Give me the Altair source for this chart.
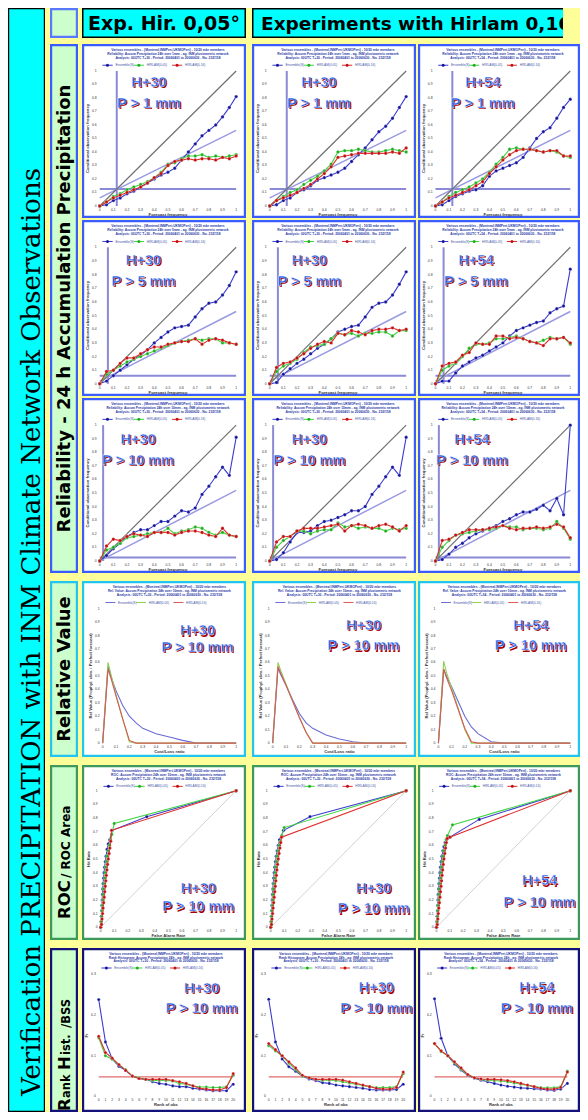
import altair as alt
import pandas as pd

# ------------------------------------------------------------------ data
REL_FCST = [0.0, 0.05, 0.1, 0.15, 0.2, 0.25, 0.3, 0.35, 0.4, 0.45, 0.5,
            0.55, 0.6, 0.65, 0.7, 0.75, 0.8, 0.85, 0.9, 0.95, 1.0]

# Reliability, P > 1 mm
REL_C1_P1_ENS = [0.00, 0.01, 0.04, 0.06, 0.09, 0.11, 0.14, 0.17, 0.20, 0.23, 0.25, 0.28, 0.34, 0.40, 0.46, 0.52, 0.56, 0.60, 0.66, 0.73, 0.81]
REL_C1_P1_A = [0.00, 0.03, 0.07, 0.09, 0.12, 0.14, 0.16, 0.18, 0.21, 0.25, 0.31, 0.32, 0.35, 0.37, 0.37, 0.38, 0.36, 0.37, 0.36, 0.37, 0.38]
REL_C1_P1_B = [0.00, 0.03, 0.06, 0.08, 0.10, 0.12, 0.14, 0.17, 0.21, 0.24, 0.30, 0.33, 0.34, 0.35, 0.34, 0.35, 0.35, 0.34, 0.36, 0.35, 0.37]
REL_C2_P1_ENS = [0.00, 0.01, 0.04, 0.06, 0.10, 0.12, 0.15, 0.19, 0.21, 0.23, 0.25, 0.28, 0.33, 0.38, 0.43, 0.49, 0.55, 0.59, 0.65, 0.73, 0.81]
REL_C2_P1_A = [0.00, 0.04, 0.07, 0.10, 0.12, 0.16, 0.19, 0.22, 0.26, 0.31, 0.40, 0.41, 0.41, 0.42, 0.41, 0.40, 0.40, 0.41, 0.42, 0.41, 0.40]
REL_C2_P1_B = [0.00, 0.04, 0.06, 0.08, 0.10, 0.13, 0.16, 0.20, 0.24, 0.29, 0.36, 0.37, 0.38, 0.39, 0.39, 0.39, 0.39, 0.39, 0.40, 0.39, 0.43]
REL_C3_P1_ENS = [0.00, 0.01, 0.04, 0.07, 0.09, 0.11, 0.12, 0.15, 0.22, 0.26, 0.28, 0.30, 0.32, 0.36, 0.43, 0.50, 0.55, 0.58, 0.65, 0.73, 0.79]
REL_C3_P1_A = [0.00, 0.03, 0.07, 0.10, 0.12, 0.14, 0.17, 0.20, 0.25, 0.31, 0.36, 0.42, 0.43, 0.42, 0.42, 0.41, 0.40, 0.41, 0.40, 0.37, 0.36]
REL_C3_P1_B = [0.00, 0.03, 0.06, 0.08, 0.10, 0.12, 0.15, 0.18, 0.24, 0.29, 0.34, 0.38, 0.41, 0.42, 0.42, 0.41, 0.40, 0.41, 0.41, 0.37, 0.37]
# Reliability, P > 5 mm
REL_C1_P5_ENS = [0.00, 0.02, 0.06, 0.10, 0.14, 0.18, 0.21, 0.25, 0.30, 0.34, 0.38, 0.41, 0.42, 0.43, 0.49, 0.55, 0.59, 0.60, 0.65, 0.72, 0.82]
REL_C1_P5_A = [0.00, 0.07, 0.10, 0.13, 0.16, 0.18, 0.20, 0.22, 0.24, 0.26, 0.28, 0.30, 0.31, 0.32, 0.33, 0.32, 0.33, 0.33, 0.30, 0.30, 0.29]
REL_C1_P5_B = [0.00, 0.09, 0.10, 0.15, 0.19, 0.19, 0.22, 0.25, 0.27, 0.27, 0.29, 0.30, 0.31, 0.31, 0.33, 0.29, 0.32, 0.33, 0.32, 0.30, 0.29]
REL_C2_P5_ENS = [0.00, 0.01, 0.07, 0.11, 0.15, 0.18, 0.22, 0.26, 0.29, 0.33, 0.38, 0.40, 0.42, 0.43, 0.49, 0.56, 0.59, 0.60, 0.65, 0.73, 0.82]
REL_C2_P5_A = [0.00, 0.09, 0.13, 0.15, 0.18, 0.23, 0.27, 0.28, 0.29, 0.33, 0.37, 0.36, 0.37, 0.35, 0.37, 0.37, 0.38, 0.38, 0.35, 0.39, 0.39]
REL_C2_P5_B = [0.00, 0.12, 0.15, 0.16, 0.19, 0.22, 0.26, 0.29, 0.31, 0.30, 0.37, 0.36, 0.39, 0.38, 0.36, 0.39, 0.40, 0.40, 0.41, 0.39, 0.40]
REL_C3_P5_ENS = [0.00, 0.02, 0.02, 0.08, 0.13, 0.16, 0.19, 0.21, 0.24, 0.27, 0.30, 0.35, 0.39, 0.41, 0.43, 0.45, 0.46, 0.52, 0.55, 0.57, 0.84]
REL_C3_P5_A = [0.00, 0.10, 0.13, 0.15, 0.20, 0.26, 0.29, 0.29, 0.30, 0.33, 0.33, 0.34, 0.35, 0.33, 0.31, 0.30, 0.32, 0.34, 0.33, 0.34, 0.29]
REL_C3_P5_B = [0.00, 0.13, 0.15, 0.16, 0.21, 0.23, 0.30, 0.29, 0.29, 0.35, 0.35, 0.33, 0.34, 0.33, 0.31, 0.30, 0.28, 0.33, 0.33, 0.34, 0.30]
# Reliability, P > 10 mm
REL_C1_P10_ENS = [0.00, 0.04, 0.09, 0.13, 0.18, 0.21, 0.23, 0.23, 0.26, 0.29, 0.29, 0.33, 0.37, 0.36, 0.39, 0.49, 0.55, 0.62, 0.69, 0.63, 0.91]
REL_C1_P10_A = [0.00, 0.08, 0.10, 0.13, 0.17, 0.18, 0.19, 0.20, 0.21, 0.21, 0.24, 0.20, 0.22, 0.23, 0.25, 0.24, 0.21, 0.19, 0.21, 0.19, 0.18]
REL_C1_P10_B = [0.00, 0.11, 0.16, 0.15, 0.18, 0.20, 0.19, 0.18, 0.21, 0.21, 0.21, 0.19, 0.21, 0.22, 0.22, 0.21, 0.19, 0.18, 0.24, 0.19, 0.18]
REL_C2_P10_ENS = [0.00, 0.01, 0.06, 0.14, 0.21, 0.21, 0.22, 0.26, 0.29, 0.30, 0.32, 0.34, 0.37, 0.37, 0.40, 0.49, 0.55, 0.62, 0.69, 0.63, 0.91]
REL_C2_P10_A = [0.00, 0.10, 0.15, 0.18, 0.22, 0.22, 0.20, 0.22, 0.23, 0.23, 0.28, 0.25, 0.26, 0.24, 0.25, 0.24, 0.24, 0.22, 0.24, 0.23, 0.24]
REL_C2_P10_B = [0.00, 0.14, 0.18, 0.18, 0.22, 0.24, 0.24, 0.24, 0.25, 0.26, 0.27, 0.22, 0.26, 0.27, 0.26, 0.24, 0.26, 0.27, 0.25, 0.22, 0.26]
REL_C3_P10_ENS = [0.00, 0.01, 0.05, 0.10, 0.13, 0.17, 0.20, 0.22, 0.24, 0.26, 0.29, 0.31, 0.34, 0.36, 0.36, 0.38, 0.41, 0.37, 0.46, 0.34, 1.00]
REL_C3_P10_A = [0.00, 0.10, 0.15, 0.19, 0.20, 0.21, 0.22, 0.23, 0.23, 0.24, 0.26, 0.25, 0.25, 0.23, 0.24, 0.24, 0.23, 0.24, 0.29, 0.24, 0.16]
REL_C3_P10_B = [0.00, 0.15, 0.16, 0.19, 0.21, 0.23, 0.23, 0.23, 0.24, 0.25, 0.26, 0.24, 0.23, 0.24, 0.24, 0.25, 0.24, 0.25, 0.27, 0.25, 0.17]

REL_CLIM = [0.125, 0.06, 0.025]          # climatological frequency per threshold
REL_FIT_LOW = [0.06, 0.02, 0.0]
REL_FIT_HIGH = [0.56, 0.53, 0.52]

# Relative value
RV_COST_LOSS = [0.0, 0.04, 0.06, 0.1, 0.15, 0.2, 0.25, 0.3, 0.4, 0.5, 0.6, 0.7, 0.8, 0.9, 1.0]
RV_C1_ENS = [0.0, 0.57, 0.50, 0.39, 0.28, 0.20, 0.15, 0.11, 0.07, 0.045, 0.02, 0.0, 0.0, 0.0, 0.0]
RV_C1_A = [0.0, 0.60, 0.52, 0.36, 0.18, 0.01, 0.0, 0.0, 0.0, 0.0, 0.0, 0.0, 0.0, 0.0, 0.0]
RV_C1_B = [0.0, 0.55, 0.49, 0.35, 0.18, 0.02, 0.0, 0.0, 0.0, 0.0, 0.0, 0.0, 0.0, 0.0, 0.0]
RV_C2_ENS = [0.0, 0.56, 0.51, 0.43, 0.32, 0.22, 0.15, 0.11, 0.06, 0.03, 0.01, 0.0, 0.0, 0.0, 0.0]
RV_C2_A = [0.0, 0.60, 0.54, 0.44, 0.31, 0.19, 0.08, 0.0, 0.0, 0.0, 0.0, 0.0, 0.0, 0.0, 0.0]
RV_C2_B = [0.0, 0.57, 0.52, 0.43, 0.31, 0.19, 0.08, 0.0, 0.0, 0.0, 0.0, 0.0, 0.0, 0.0, 0.0]
RV_C3_ENS = [0.0, 0.55, 0.50, 0.42, 0.31, 0.20, 0.12, 0.07, 0.01, 0.0, 0.0, 0.0, 0.0, 0.0, 0.0]
RV_C3_A = [0.0, 0.61, 0.53, 0.41, 0.26, 0.10, 0.0, 0.0, 0.0, 0.0, 0.0, 0.0, 0.0, 0.0, 0.0]
RV_C3_B = [0.0, 0.55, 0.49, 0.39, 0.25, 0.11, 0.01, 0.0, 0.0, 0.0, 0.0, 0.0, 0.0, 0.0, 0.0]

# ROC (false alarm rate, hit rate)
ROC_C1_ENS_FAR = [0, 0.003, 0.005, 0.007, 0.009, 0.011, 0.013, 0.015, 0.018, 0.021, 0.025, 0.029, 0.034, 0.040, 0.047, 0.056, 0.066, 0.085, 0.34, 1.0]
ROC_C1_ENS_HR = [0, 0.04, 0.08, 0.12, 0.16, 0.20, 0.24, 0.28, 0.32, 0.36, 0.40, 0.44, 0.48, 0.52, 0.57, 0.61, 0.64, 0.71, 0.81, 1.0]
ROC_C1_A_FAR = [0, 0.004, 0.007, 0.010, 0.013, 0.016, 0.019, 0.022, 0.026, 0.030, 0.034, 0.038, 0.043, 0.049, 0.056, 0.064, 0.072, 0.082, 0.10, 1.0]
ROC_C1_A_HR = [0, 0.04, 0.08, 0.12, 0.16, 0.20, 0.24, 0.28, 0.32, 0.36, 0.40, 0.44, 0.48, 0.52, 0.56, 0.60, 0.64, 0.68, 0.76, 1.0]
ROC_C1_B_FAR = [0, 0.006, 0.010, 0.014, 0.018, 0.022, 0.026, 0.030, 0.034, 0.038, 0.042, 0.046, 0.051, 0.056, 0.062, 0.068, 0.074, 0.080, 1.0]
ROC_C1_B_HR = [0, 0.02, 0.06, 0.10, 0.14, 0.18, 0.22, 0.26, 0.30, 0.34, 0.38, 0.42, 0.46, 0.50, 0.54, 0.58, 0.63, 0.71, 1.0]
ROC_C2_ENS_FAR = [0, 0.003, 0.005, 0.007, 0.009, 0.011, 0.013, 0.016, 0.019, 0.022, 0.026, 0.030, 0.035, 0.041, 0.048, 0.056, 0.065, 0.095, 0.29, 1.0]
ROC_C2_ENS_HR = [0, 0.04, 0.08, 0.12, 0.16, 0.20, 0.24, 0.28, 0.32, 0.36, 0.40, 0.44, 0.48, 0.52, 0.56, 0.60, 0.64, 0.71, 0.81, 1.0]
ROC_C2_A_FAR = [0, 0.004, 0.007, 0.010, 0.013, 0.016, 0.019, 0.022, 0.026, 0.030, 0.034, 0.038, 0.043, 0.049, 0.056, 0.064, 0.072, 0.082, 0.10, 1.0]
ROC_C2_A_HR = [0, 0.04, 0.08, 0.12, 0.16, 0.20, 0.24, 0.28, 0.32, 0.36, 0.40, 0.44, 0.48, 0.52, 0.56, 0.60, 0.63, 0.67, 0.73, 1.0]
ROC_C2_B_FAR = [0, 0.006, 0.010, 0.014, 0.018, 0.022, 0.026, 0.030, 0.034, 0.038, 0.042, 0.046, 0.051, 0.056, 0.062, 0.068, 0.074, 0.080, 1.0]
ROC_C2_B_HR = [0, 0.02, 0.06, 0.10, 0.14, 0.18, 0.22, 0.26, 0.30, 0.34, 0.38, 0.42, 0.46, 0.50, 0.54, 0.58, 0.62, 0.66, 1.0]
ROC_C3_ENS_FAR = [0, 0.003, 0.005, 0.007, 0.009, 0.011, 0.013, 0.016, 0.019, 0.022, 0.026, 0.030, 0.035, 0.041, 0.048, 0.056, 0.065, 0.10, 0.32, 1.0]
ROC_C3_ENS_HR = [0, 0.04, 0.08, 0.12, 0.16, 0.20, 0.24, 0.28, 0.32, 0.36, 0.40, 0.44, 0.48, 0.52, 0.56, 0.59, 0.62, 0.66, 0.79, 1.0]
ROC_C3_A_FAR = [0, 0.004, 0.007, 0.010, 0.013, 0.016, 0.019, 0.022, 0.026, 0.030, 0.034, 0.038, 0.043, 0.049, 0.056, 0.064, 0.072, 0.082, 0.12, 1.0]
ROC_C3_A_HR = [0, 0.04, 0.08, 0.12, 0.16, 0.20, 0.24, 0.28, 0.32, 0.36, 0.40, 0.44, 0.48, 0.52, 0.56, 0.60, 0.64, 0.67, 0.75, 1.0]
ROC_C3_B_FAR = [0, 0.006, 0.010, 0.014, 0.018, 0.022, 0.026, 0.030, 0.034, 0.038, 0.042, 0.046, 0.051, 0.056, 0.062, 0.068, 0.074, 0.080, 0.10, 1.0]
ROC_C3_B_HR = [0, 0.02, 0.06, 0.10, 0.14, 0.18, 0.22, 0.26, 0.30, 0.34, 0.38, 0.42, 0.46, 0.50, 0.54, 0.58, 0.62, 0.65, 0.66, 1.0]

# Rank histograms (ranks 0..20)
RANK_OBS = [0, 1, 2, 3, 4, 5, 6, 7, 8, 9, 10, 11, 12, 13, 14, 15, 16, 17, 18, 19, 20]
RANK_C1_ENS = [0.238, 0.134, 0.092, 0.074, 0.064, 0.050, 0.044, 0.042, 0.036, 0.032, 0.030, 0.026, 0.024, 0.024, 0.020, 0.018, 0.016, 0.014, 0.014, 0.014, 0.030]
RANK_C1_A = [0.144, 0.100, 0.092, 0.078, 0.066, 0.050, 0.046, 0.042, 0.039, 0.039, 0.039, 0.038, 0.032, 0.030, 0.026, 0.023, 0.023, 0.022, 0.022, 0.024, 0.052]
RANK_C1_B = [0.148, 0.108, 0.094, 0.078, 0.064, 0.050, 0.044, 0.042, 0.042, 0.042, 0.042, 0.039, 0.036, 0.032, 0.026, 0.020, 0.018, 0.016, 0.016, 0.022, 0.056]
RANK_C2_ENS = [0.239, 0.134, 0.092, 0.073, 0.062, 0.050, 0.043, 0.039, 0.034, 0.032, 0.028, 0.026, 0.024, 0.022, 0.020, 0.017, 0.016, 0.016, 0.016, 0.017, 0.030]
RANK_C2_A = [0.125, 0.112, 0.100, 0.082, 0.066, 0.050, 0.046, 0.042, 0.040, 0.040, 0.039, 0.036, 0.033, 0.030, 0.027, 0.024, 0.022, 0.022, 0.022, 0.024, 0.056]
RANK_C2_B = [0.130, 0.115, 0.100, 0.085, 0.070, 0.052, 0.046, 0.042, 0.042, 0.042, 0.042, 0.040, 0.036, 0.032, 0.028, 0.024, 0.020, 0.018, 0.018, 0.022, 0.060]
RANK_C3_ENS = [0.240, 0.143, 0.100, 0.080, 0.065, 0.052, 0.045, 0.040, 0.036, 0.032, 0.028, 0.025, 0.023, 0.021, 0.020, 0.019, 0.018, 0.016, 0.015, 0.018, 0.032]
RANK_C3_A = [0.130, 0.110, 0.100, 0.083, 0.067, 0.053, 0.046, 0.042, 0.040, 0.039, 0.038, 0.036, 0.033, 0.030, 0.027, 0.024, 0.022, 0.021, 0.021, 0.024, 0.062]
RANK_C3_B = [0.130, 0.112, 0.100, 0.085, 0.070, 0.054, 0.046, 0.043, 0.042, 0.042, 0.041, 0.039, 0.036, 0.032, 0.028, 0.024, 0.020, 0.018, 0.018, 0.022, 0.060]
RANK_UNIFORM = [0.048]

# Tick labels
TICKS_01 = [0.0, 0.1, 0.2, 0.3, 0.4, 0.5, 0.6, 0.7, 0.8, 0.9, 1.0]
TICKLAB_01 = ["0", "0.1", "0.2", "0.3", "0.4", "0.5", "0.6", "0.7", "0.8", "0.9", "1"]
RANK_TICKLAB = ["0", "1", "2", "3", "4", "5", "6", "7", "8", "9", "10", "11", "12", "13", "14", "15", "16", "17", "18", "19", "20"]
RANK_YTICKS = [0.0, 0.1, 0.2, 0.3]
RANK_YTICKLAB = ["0", "0.1", "0.2", "0.3"]

SERIES_NAMES = ["Ensemble(S)", "HIRLAM(0.05)", "HIRLAM(0.16)"]
LEADS = ["30", "30", "54"]
THRESH = ["1", "5", "10"]

# ------------------------------------------------------------------ style / layout
TINY = "Liberation Sans, Arial, sans-serif"
ANN_FONT = "Liberation Sans, Arial, sans-serif"
LABEL_FONT = "DejaVu Sans, Verdana, sans-serif"
BANNER_FONT = "DejaVu Serif, serif"

LINE_COLORS = ["#3b3bd0", "#3fd63f", "#e02c2c"]
POINT_COLORS = ["#16169c", "#1fae1f", "#c20f0f"]
RV_COLORS = ["#6b6bd6", "#8fd050", "#d85a5a"]

COL_W = [164, 164, 162]
REL_H = [174, 176, 175]
RV_H, ROC_H, RANK_H = 176, 175, 164
HEAD_H = 30
TOTAL_H = HEAD_H + 6 + sum(REL_H) + 4 + 8 + RV_H + 8 + ROC_H + 8 + RANK_H

FRAC = {
    "rel": dict(l=0.108, r=0.940, t=0.155, b=0.931),
    "rv": dict(l=0.126, r=0.940, t=0.157, b=0.921),
    "roc": dict(l=0.114, r=0.940, t=0.147, b=0.927),
    "rank": dict(l=0.102, r=0.922, t=0.161, b=0.905),
}
LEGEND_POS = [0.02, 0.25, 0.53]
TITLE1 = "Various ensembles - (Montreal,INMPert,UKMOPert) - 10/20 mbr members"


def one_text(t):
    return alt.Chart(pd.DataFrame({"t": [t]}))


def frame(width, height, fill, stroke, sw):
    h = sw / 2.0
    return one_text("").mark_rect(fill=fill, stroke=stroke, strokeWidth=sw).encode(
        x=alt.value(h), x2=alt.value(width - h), y=alt.value(h), y2=alt.value(height - h))


def panel(kind, width, height, xr, yr, curves, xt, xtl, yt, ytl, xtitle, ytitle,
          line2, line3, ann, border, refs=(), markers=True, colors=LINE_COLORS,
          pcolors=POINT_COLORS, psize=12):
    f = FRAC[kind]
    kx = (xr[1] - xr[0]) / (f["r"] - f["l"])
    ky = (yr[1] - yr[0]) / (f["b"] - f["t"])
    xdom = [xr[0] - f["l"] * kx, xr[1] + (1 - f["r"]) * kx]
    ydom = [yr[0] - (1 - f["b"]) * ky, yr[1] + f["t"] * ky]

    def fx(p):
        return xdom[0] + p * (xdom[1] - xdom[0])

    def fy(p):
        return ydom[1] - p * (ydom[1] - ydom[0])

    sx = alt.Scale(domain=xdom, nice=False, zero=False)
    sy = alt.Scale(domain=ydom, nice=False, zero=False)
    X = alt.X("x:Q", scale=sx, axis=None)
    Y = alt.Y("y:Q", scale=sy, axis=None)

    def base(d):
        return alt.Chart(pd.DataFrame(d))

    L = [frame(width, height, "white", border, 2.2)]
    L.append(base({"x": xt, "y": [fy(f["b"] + 0.012)] * len(xt), "t": xtl})
             .mark_text(font=TINY, fontSize=3.4, color="#333333", baseline="top", clip=True)
             .encode(x=X, y=Y, text="t:N"))
    L.append(base({"x": [fx(f["l"] - 0.018)] * len(yt), "y": yt, "t": ytl})
             .mark_text(font=TINY, fontSize=3.4, color="#333333", align="right", baseline="middle", clip=True)
             .encode(x=X, y=Y, text="t:N"))
    cx = fx((f["l"] + f["r"]) / 2)
    L.append(base({"x": [cx], "y": [fy(f["b"] + 0.05)], "t": [xtitle]})
             .mark_text(font=TINY, fontSize=4.2, fontWeight="bold", color="#333333", baseline="middle", clip=True)
             .encode(x=X, y=Y, text="t:N"))
    L.append(base({"x": [fx(f["l"] - 0.07)], "y": [fy((f["t"] + f["b"]) / 2)], "t": [ytitle]})
             .mark_text(font=TINY, fontSize=4.2, fontWeight="bold", color="#333333", angle=270,
                        baseline="middle", clip=True)
             .encode(x=X, y=Y, text="t:N"))
    L.append(base({"x": [cx] * 3, "y": [fy(0.034), fy(0.058), fy(0.082)], "t": [TITLE1, line2, line3]})
             .mark_text(font=TINY, fontSize=3.3, fontWeight="bold", color="#2b3aa8", baseline="middle", clip=True)
             .encode(x=X, y=Y, text="t:N"))
    # legend
    ly = fy(0.122)
    dx = xr[1] - xr[0]
    for i, name in enumerate(SERIES_NAMES):
        a = xr[0] + LEGEND_POS[i] * dx
        L.append(base({"x": [a], "x2": [a + 0.075 * dx], "y": [ly]})
                 .mark_rule(color=colors[i], strokeWidth=1)
                 .encode(x=X, x2="x2:Q", y=Y))
        if markers:
            L.append(base({"x": [a + 0.037 * dx], "y": [ly]})
                     .mark_circle(size=9, color=pcolors[i], opacity=1)
                     .encode(x=X, y=Y))
        L.append(base({"x": [a + 0.095 * dx], "y": [ly], "t": [name]})
                 .mark_text(font=TINY, fontSize=3.2, color="#4455aa", align="left", baseline="middle", clip=True)
                 .encode(x=X, y=Y, text="t:N"))
    # reference lines
    for rf in refs:
        L.append(base({"x": [rf["x"]], "y": [rf["y"]], "x2": [rf["x2"]], "y2": [rf["y2"]]})
                 .mark_rule(color=rf["color"], strokeWidth=rf["w"])
                 .encode(x=X, y=Y, x2="x2:Q", y2="y2:Q"))
    # curves
    for i, (xs, ys) in enumerate(curves):
        d = {"x": xs, "y": ys}
        L.append(base(d).mark_line(color=colors[i], strokeWidth=1.1).encode(x=X, y=Y))
        if markers:
            L.append(base(d).mark_circle(size=psize, color=pcolors[i], opacity=1,
                                         stroke="#ffffff", strokeWidth=0.3).encode(x=X, y=Y))
    # annotation
    ax, ay1, ay2, t1, t2 = ann
    ad = {"x": [ax, ax], "y": [ay1, ay2], "t": [t1, t2]}
    L.append(base(ad).mark_text(font=ANN_FONT, fontWeight="bold", fontSize=14.5, color="#a80000",
                                dx=1.3, dy=1.3, baseline="middle", clip=True)
             .encode(x=X, y=Y, text="t:N"))
    L.append(base(ad).mark_text(font=ANN_FONT, fontWeight="bold", fontSize=14.5, color="#1a56e6",
                                stroke="#ffffff", strokeWidth=0.4, baseline="middle", clip=True)
             .encode(x=X, y=Y, text="t:N"))
    return alt.layer(*L).properties(width=width, height=height)


def grid_row(cells):
    return alt.hconcat(cells[0], alt.hconcat(cells[1], cells[2], spacing=2), spacing=6)


# ------------------------------------------------------------------ reliability rows
REL_DATA = [
    [(REL_C1_P1_ENS, REL_C1_P1_A, REL_C1_P1_B), (REL_C2_P1_ENS, REL_C2_P1_A, REL_C2_P1_B), (REL_C3_P1_ENS, REL_C3_P1_A, REL_C3_P1_B)],
    [(REL_C1_P5_ENS, REL_C1_P5_A, REL_C1_P5_B), (REL_C2_P5_ENS, REL_C2_P5_A, REL_C2_P5_B), (REL_C3_P5_ENS, REL_C3_P5_A, REL_C3_P5_B)],
    [(REL_C1_P10_ENS, REL_C1_P10_A, REL_C1_P10_B), (REL_C2_P10_ENS, REL_C2_P10_A, REL_C2_P10_B), (REL_C3_P10_ENS, REL_C3_P10_A, REL_C3_P10_B)],
]
REL_ANN = [[(0.36, 0.91, 0.755), (0.36, 0.91, 0.755), (0.35, 0.91, 0.755)],
           [(0.32, 0.90, 0.745), (0.29, 0.90, 0.745), (0.30, 0.90, 0.745)],
           [(0.28, 0.89, 0.735), (0.29, 0.89, 0.735), (0.27, 0.89, 0.735)]]

rel_rows = []
for r in range(3):
    cells = []
    c_clim = REL_CLIM[r]
    refs = [
        dict(x=0, y=c_clim, x2=1, y2=c_clim, color="#8a8ad6", w=2.0),
        dict(x=c_clim, y=0, x2=c_clim, y2=1, color="#8a8ad6", w=2.0),
        dict(x=0, y=REL_FIT_LOW[r], x2=1, y2=REL_FIT_HIGH[r], color="#9a9ae2", w=1.5),
        dict(x=0, y=0, x2=1, y2=1, color="#707070", w=1.2),
    ]
    for c in range(3):
        ens, a, b = REL_DATA[r][c]
        ax, ay1, ay2 = REL_ANN[r][c]
        cells.append(panel(
            "rel", COL_W[c], REL_H[r], (0, 1), (0, 1),
            [(REL_FCST, ens), (REL_FCST, a), (REL_FCST, b)],
            TICKS_01, TICKLAB_01, TICKS_01, TICKLAB_01,
            "Forecast frequency", "Conditional observation frequency",
            "Reliability: Accum Precipitation 24h over %smm - ag. INM pluviometric network" % THRESH[r],
            "Analysis: 00UTC  T+%s - Period: 20060401 to 20060630 - No. 232/158" % LEADS[c],
            (ax, ay1, ay2, "H+" + LEADS[c], "P > %s mm" % THRESH[r]),
            "#3a5cff", refs=refs))
    rel_rows.append(grid_row(cells))

# ------------------------------------------------------------------ relative value row
RV_DATA = [(RV_C1_ENS, RV_C1_A, RV_C1_B), (RV_C2_ENS, RV_C2_A, RV_C2_B), (RV_C3_ENS, RV_C3_A, RV_C3_B)]
RV_ANN = [(0.71, 0.83, 0.71), (0.68, 0.87, 0.72), (0.70, 0.87, 0.72)]
rv_cells = []
for c in range(3):
    ax, ay1, ay2 = RV_ANN[c]
    rv_cells.append(panel(
        "rv", COL_W[c], RV_H, (0, 1), (0, 1),
        [(RV_COST_LOSS, s) for s in RV_DATA[c]],
        TICKS_01, TICKLAB_01, TICKS_01, TICKLAB_01,
        "Cost/Loss ratio", "Rel Value (Prophyl. clim. / Perfect forecast)",
        "Rel. Value: Accum Precipitation 24h over 10mm - ag. INM pluviometric network",
        "Analysis: 00UTC  T+%s - Period: 20060401 to 20060630 - No. 232/158" % LEADS[c],
        (ax, ay1, ay2, "H+" + LEADS[c], "P > 10 mm"),
        "#22c4f0", markers=False, colors=RV_COLORS))

# ------------------------------------------------------------------ ROC row
ROC_DATA = [
    [(ROC_C1_ENS_FAR, ROC_C1_ENS_HR), (ROC_C1_A_FAR, ROC_C1_A_HR), (ROC_C1_B_FAR, ROC_C1_B_HR)],
    [(ROC_C2_ENS_FAR, ROC_C2_ENS_HR), (ROC_C2_A_FAR, ROC_C2_A_HR), (ROC_C2_B_FAR, ROC_C2_B_HR)],
    [(ROC_C3_ENS_FAR, ROC_C3_ENS_HR), (ROC_C3_A_FAR, ROC_C3_A_HR), (ROC_C3_B_FAR, ROC_C3_B_HR)],
]
ROC_ANN = [(0.72, 0.28, 0.145), (0.76, 0.28, 0.13), (0.77, 0.335, 0.18)]
roc_cells = []
for c in range(3):
    ax, ay1, ay2 = ROC_ANN[c]
    roc_cells.append(panel(
        "roc", COL_W[c], ROC_H, (0, 1), (0, 1), ROC_DATA[c],
        TICKS_01, TICKLAB_01, TICKS_01, TICKLAB_01,
        "False Alarm Rate", "Hit Rate",
        "ROC: Accum Precipitation 24h over 10mm - ag. INM pluviometric network",
        "Analysis: 00UTC  T+%s - Period: 20060401 to 20060630 - No. 232/158" % LEADS[c],
        (ax, ay1, ay2, "H+" + LEADS[c], "P > 10 mm"),
        "#3d9a5c", refs=[dict(x=0, y=0, x2=1, y2=1, color="#d2d2d2", w=1.0)], psize=11))

# ------------------------------------------------------------------ rank histogram row
RANK_DATA = [(RANK_C1_ENS, RANK_C1_A, RANK_C1_B), (RANK_C2_ENS, RANK_C2_A, RANK_C2_B), (RANK_C3_ENS, RANK_C3_A, RANK_C3_B)]
RANK_ANN = [(15.3, 0.264, 0.216), (16.0, 0.266, 0.216), (15.4, 0.266, 0.216)]
rank_cells = []
for c in range(3):
    ax, ay1, ay2 = RANK_ANN[c]
    rank_cells.append(panel(
        "rank", COL_W[c], RANK_H, (0, 20), (0, 0.3),
        [(RANK_OBS, s) for s in RANK_DATA[c]],
        RANK_OBS, RANK_TICKLAB, RANK_YTICKS, RANK_YTICKLAB,
        "Rank of obs", "Fr",
        "Rank Histogram: Accum Precipitation 24h - ag. INM pluviometric network",
        "Analysis: 00UTC  T+%s - Period: 20060401 to 20060630 - No. 232/158" % LEADS[c],
        (ax, ay1, ay2, "H+" + LEADS[c], "P > 10 mm"),
        "#12127a",
        refs=[dict(x=0, y=RANK_UNIFORM[0], x2=20, y2=RANK_UNIFORM[0], color="#e06a6a", w=1.2)],
        psize=10))

# ------------------------------------------------------------------ header
head1 = alt.layer(
    frame(COL_W[0], HEAD_H, "#00FFFF", "#000000", 1.5),
    one_text("Exp. Hir. 0,05°").mark_text(
        font=LABEL_FONT, fontWeight="bold", fontSize=19, color="black", baseline="middle", clip=True
    ).encode(x=alt.value(COL_W[0] / 2), y=alt.value(16), text="t:N")
).properties(width=COL_W[0], height=HEAD_H)

H2_W = 311
head2_box = one_text("").mark_rect(fill="#00FFFF", stroke="#000000", strokeWidth=1.5, clip=True).encode(
    x=alt.value(0.75), x2=alt.value(H2_W + 20), y=alt.value(0.75), y2=alt.value(HEAD_H - 0.75))
head2_txt = one_text("Experiments with Hirlam 0,16").mark_text(
    font=LABEL_FONT, fontWeight="bold", fontSize=18.5, color="black", align="left",
    baseline="middle", clip=True
).encode(x=alt.value(9), y=alt.value(16), text="t:N")
head2 = alt.layer(head2_box, head2_txt).properties(width=H2_W, height=HEAD_H)

header = alt.hconcat(head1, head2, spacing=6)

grid = alt.vconcat(
    header,
    alt.vconcat(
        alt.vconcat(*rel_rows, spacing=2),
        alt.vconcat(grid_row(rv_cells), grid_row(roc_cells), grid_row(rank_cells), spacing=8),
        spacing=8),
    spacing=6)

# ------------------------------------------------------------------ label column
LBL_W = 28
LBL_BASE = 19.5


def label_box(h, border, pieces):
    layers = [frame(LBL_W, h, "#CCFFCC", border, 2.2)]
    for (t, y, size, align) in pieces:
        layers.append(one_text(t).mark_text(
            font=LABEL_FONT, fontWeight="bold", fontSize=size, color="black", angle=270,
            align=align, baseline="alphabetic", clip=True).encode(
            x=alt.value(LBL_BASE), y=alt.value(y), text="t:N"))
    return alt.layer(*layers).properties(width=LBL_W, height=h)


REL_LBL_H = sum(REL_H) + 4
top_lbl = label_box(HEAD_H, "#5a78ff", [])
rel_lbl = label_box(REL_LBL_H, "#3a5cff",
                    [("Reliability - 24 h Accumulation Precipitation", REL_LBL_H / 2, 18, "center")])
rv_lbl = label_box(RV_H, "#22c4f0", [("Relative Value", RV_H / 2, 18, "center")])
roc_lbl = label_box(ROC_H, "#3d9a5c", [("ROC", 154, 16.5, "left"), ("/ ROC Area", 113, 12, "left")])
rank_lbl = label_box(RANK_H, "#12127a", [("R", 163, 16.5, "left"), ("ank", 150, 11.5, "left"),
                                         ("H", 122, 16.5, "left"), ("ist.", 107, 11.5, "left"),
                                         ("/BSS", 80, 11.5, "left")])

labels = alt.vconcat(
    top_lbl,
    alt.vconcat(rel_lbl, alt.vconcat(rv_lbl, roc_lbl, rank_lbl, spacing=8), spacing=8),
    spacing=6)

# ------------------------------------------------------------------ banner
BANNER_W = 37
banner = alt.layer(
    frame(BANNER_W, TOTAL_H, "#00FFFF", "#000000", 1.2),
    one_text("Verification PRECIPITATION with INM Climate Network Observations").mark_text(
        font=BANNER_FONT, fontSize=26, color="black", angle=270, align="center",
        baseline="alphabetic", clip=True
    ).encode(x=alt.value(32), y=alt.value(624), text="t:N")
).properties(width=BANNER_W, height=TOTAL_H)

chart = alt.hconcat(
    banner,
    alt.hconcat(labels, grid, spacing=4),
    spacing=5
).properties(background="#FFFF99", padding=0).configure_view(strokeWidth=0)

chart.save("out.html", embed_options={"renderer": "svg", "actions": False})
